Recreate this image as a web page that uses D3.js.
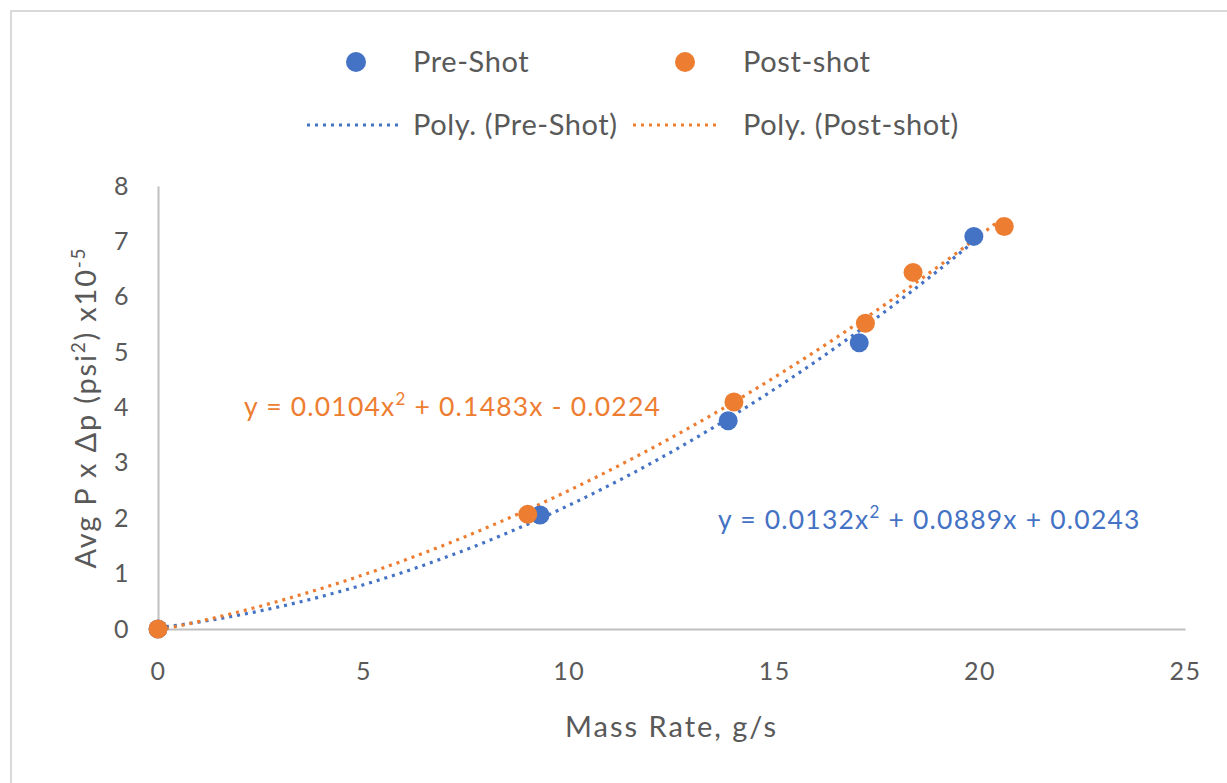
<!DOCTYPE html>
<html>
<head>
<meta charset="utf-8">
<script src="https://cdn.jsdelivr.net/npm/d3@7"></script>
<style>
  html, body { margin: 0; padding: 0; background: #fff; }
  svg { display: block; }
  text { font-family: Lato, "Open Sans", sans-serif; fill: #595959; }
</style>
</head>
<body>
<svg id="chart" width="1227" height="783"></svg>
<script>
// Measured series (mass rate g/s vs Avg P x Δp)
const preShotX  = [0, 9.3, 13.88, 17.07, 19.86];
const preShotY  = [0, 2.06, 3.76, 5.17, 7.09];
const postShotX = [0, 9.0, 14.02, 17.22, 18.38, 20.6];
const postShotY = [0, 2.07, 4.1, 5.52, 6.44, 7.27];

// Second-order polynomial fits [a, b, c] for y = a x^2 + b x + c
const preFit  = [0.0132, 0.0889, 0.0243];
const postFit = [0.0104, 0.1483, -0.0224];

const xTicks = [0, 5, 10, 15, 20, 25];
const yTicks = [0, 1, 2, 3, 4, 5, 6, 7, 8];

const BLUE = "#4472c4";
const ORANGE = "#ed7d31";

const svg = d3.select("#chart");

// Chart frame
svg.append("rect")
  .attr("x", 11).attr("y", 11)
  .attr("width", 1240).attr("height", 800)
  .attr("fill", "none").attr("stroke", "#d9d9d9").attr("stroke-width", 2);

const x = d3.scaleLinear().domain([0, 25]).range([158, 1185]);
const y = d3.scaleLinear().domain([0, 8]).range([629, 186]);

// Axes
const xAxis = d3.axisBottom(x).tickValues(xTicks).tickSize(0).tickPadding(33);
const yAxis = d3.axisLeft(y).tickValues(yTicks).tickSize(0).tickPadding(28);

const gx = svg.append("g").attr("transform", `translate(0,${y(0)})`).call(xAxis);
const gy = svg.append("g").attr("transform", `translate(${x(0)},0)`).call(yAxis);
[gx, gy].forEach(g => {
  g.select(".domain").attr("stroke", "#bfbfbf").attr("stroke-width", 2);
  g.selectAll(".tick text")
    .attr("font-family", "Lato, 'Open Sans', sans-serif")
    .attr("font-size", 25).attr("letter-spacing", 1.5).attr("fill", "#595959");
});
gx.selectAll(".tick text").attr("dy", "0.71em");

// Axis titles
svg.append("text")
  .attr("x", (x(0) + x(25)) / 2).attr("y", 737)
  .attr("text-anchor", "middle").attr("font-size", 29).attr("letter-spacing", 2)
  .text("Mass Rate, g/s");

const yTitle = svg.append("text")
  .attr("transform", `translate(96,${(y(0) + y(8)) / 2}) rotate(-90)`)
  .attr("text-anchor", "middle").attr("font-size", 29).attr("letter-spacing", 1.8);
yTitle.append("tspan").text("Avg P x Δp (psi");
yTitle.append("tspan").attr("font-size", 19).attr("dy", -11).text("2");
yTitle.append("tspan").attr("dy", 11).text(") x10");
yTitle.append("tspan").attr("font-size", 19).attr("dy", -11).text("-5");

// Trendlines
function fitCurve(coef, xmax) {
  const pts = d3.range(0, xmax + 1e-9, xmax / 200).map(v => [v, coef[0] * v * v + coef[1] * v + coef[2]]);
  return d3.line().x(d => x(d[0])).y(d => y(d[1]))(pts);
}
const plot = svg.append("g");
plot.append("path")
  .attr("d", fitCurve(preFit, d3.max(preShotX)))
  .attr("fill", "none").attr("stroke", BLUE).attr("stroke-width", 3.2)
  .attr("stroke-dasharray", "3 5");
plot.append("path")
  .attr("d", fitCurve(postFit, d3.max(postShotX)))
  .attr("fill", "none").attr("stroke", ORANGE).attr("stroke-width", 3.2)
  .attr("stroke-dasharray", "3 5");

// Markers
const pre = preShotX.map((v, i) => [v, preShotY[i]]);
const post = postShotX.map((v, i) => [v, postShotY[i]]);
plot.selectAll(".pre").data(pre).join("circle")
  .attr("cx", d => x(d[0])).attr("cy", d => y(d[1])).attr("r", 9.5).attr("fill", BLUE);
plot.selectAll(".post").data(post).join("circle")
  .attr("cx", d => x(d[0])).attr("cy", d => y(d[1])).attr("r", 9.5).attr("fill", ORANGE);

// Equation labels
function equation(coef, px, py, color) {
  const fmt = v => Math.abs(v).toFixed(4);
  const t = svg.append("text").attr("x", px).attr("y", py)
    .attr("font-size", 26.5).attr("letter-spacing", 1.2).attr("style", `fill:${color}`);
  t.append("tspan").text(`y = ${fmt(coef[0])}x`);
  t.append("tspan").attr("font-size", 17).attr("dy", -11).text("2");
  t.append("tspan").attr("dy", 11)
    .text(` ${coef[1] < 0 ? "-" : "+"} ${fmt(coef[1])}x ${coef[2] < 0 ? "-" : "+"} ${fmt(coef[2])}`);
}
equation(postFit, 244, 416, ORANGE);
equation(preFit, 718, 529, BLUE);

// Legend
const legend = svg.append("g");
const items = [
  { type: "dot", color: BLUE, label: "Pre-Shot", cx: 356, tx: 413, cy: 62 },
  { type: "dot", color: ORANGE, label: "Post-shot", cx: 685, tx: 743, cy: 62 },
  { type: "line", color: BLUE, label: "Poly. (Pre-Shot)", x1: 307, x2: 399, tx: 413, cy: 125 },
  { type: "line", color: ORANGE, label: "Poly. (Post-shot)", x1: 633, x2: 721, tx: 743, cy: 125 }
];
items.forEach(it => {
  if (it.type === "dot") {
    legend.append("circle").attr("cx", it.cx).attr("cy", it.cy).attr("r", 10).attr("fill", it.color);
  } else {
    legend.append("line").attr("x1", it.x1).attr("x2", it.x2).attr("y1", it.cy).attr("y2", it.cy)
      .attr("stroke", it.color).attr("stroke-width", 3.2).attr("stroke-dasharray", "3 5");
  }
  legend.append("text").attr("x", it.tx).attr("y", it.cy).attr("dy", "0.35em")
    .attr("font-size", 29).attr("letter-spacing", 0.6).text(it.label);
});
</script>
</body>
</html>
